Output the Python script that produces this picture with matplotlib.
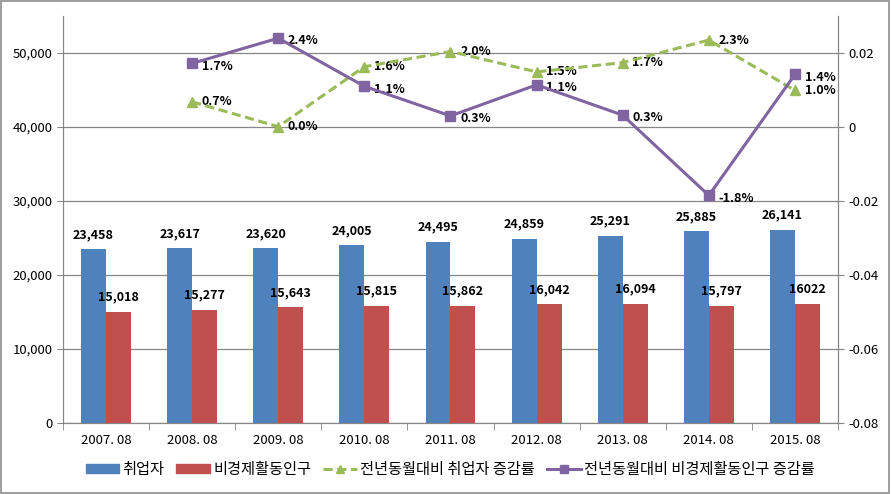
import matplotlib
matplotlib.use('Agg')
import matplotlib.pyplot as plt
import numpy as np
from matplotlib.patches import Rectangle

plt.rcParams['font.family'] = ['Noto Sans CJK KR', 'DejaVu Sans']

periods = ["2007. 08", "2008. 08", "2009. 08", "2010. 08", "2011. 08",
           "2012. 08", "2013. 08", "2014. 08", "2015. 08"]
employed = [23458, 23617, 23620, 24005, 24495, 24859, 25291, 25885, 26141]
inactive = [15018, 15277, 15643, 15815, 15862, 16042, 16094, 15797, 16022]
inactive_labels = ["15,018", "15,277", "15,643", "15,815", "15,862",
                   "16,042", "16,094", "15,797", "16022"]
# year-on-year change rates (from 2008.08)
emp_rate = [0.0068, 0.0001, 0.0163, 0.0204, 0.0149, 0.0174, 0.0235, 0.0099]
inact_rate = [0.0172, 0.0240, 0.0110, 0.0030, 0.0114, 0.0032, -0.0185, 0.0142]
emp_rate_lbl = ["0.7%", "0.0%", "1.6%", "2.0%", "1.5%", "1.7%", "2.3%", "1.0%"]
inact_rate_lbl = ["1.7%", "2.4%", "1.1%", "0.3%", "1.1%", "0.3%", "-1.8%", "1.4%"]

BLUE = '#4F81BD'
RED = '#C0504D'
GREEN = '#9BBB59'
PURPLE = '#8064A2'
GRID = '#868686'

fig = plt.figure(figsize=(8.91, 4.94), dpi=100)
fig.patches.append(Rectangle((0.001, 0.002), 0.997, 0.995, transform=fig.transFigure,
                             fill=False, edgecolor='#8c8c8c', lw=1.2))
ax = fig.add_axes([0.0707, 0.1437, 0.8698, 0.8239])
ax2 = ax.twinx()

x = np.arange(len(periods))
w = 0.29
ax.bar(x - w / 2, employed, w, color=BLUE, zorder=3)
ax.bar(x + w / 2, inactive, w, color=RED, zorder=3)
for xi, v in zip(x, employed):
    ax.annotate(f"{v:,}", (xi - w / 2, v), xytext=(0, 6), textcoords='offset points',
                ha='center', va='bottom', fontsize=9, fontweight='bold')
for xi, v, t in zip(x, inactive, inactive_labels):
    ax.annotate(t, (xi + w / 2, v), xytext=(0, 6), textcoords='offset points',
                ha='center', va='bottom', fontsize=9, fontweight='bold')

ax.set_xlim(-0.5, len(periods) - 0.5)
ax.set_ylim(0, 55000)
ax.set_yticks(range(0, 50001, 10000))
ax.set_yticklabels([f"{v:,}" for v in range(0, 50001, 10000)])
ax.set_xticks(x)
ax.set_xticklabels(periods)
ax.set_xticks(np.arange(-0.5, len(periods)), minor=True)
ax.tick_params(axis='x', which='major', length=0, pad=8, labelsize=9.5)
ax.tick_params(axis='x', which='minor', length=5, color=GRID)
ax.tick_params(axis='y', length=4, color=GRID, labelsize=9.5)
ax.grid(axis='y', color=GRID, lw=0.9, zorder=0)
for s in ['top']:
    ax.spines[s].set_visible(False)
    ax2.spines[s].set_visible(False)
for s in ['left', 'bottom', 'right']:
    ax.spines[s].set_color(GRID)
    ax2.spines[s].set_color(GRID)

xl = x[1:]
ax2.plot(xl, emp_rate, color=GREEN, lw=2.2, ls=(0, (3, 1.5)), marker='^', ms=7, zorder=4)
ax2.plot(xl, inact_rate, color=PURPLE, lw=2.2, marker='s', ms=7, zorder=5)
for xi, v, t in zip(xl, emp_rate, emp_rate_lbl):
    ax2.annotate(t, (xi, v), xytext=(7, 0), textcoords='offset points',
                 ha='left', va='center', fontsize=9, fontweight='bold')
for xi, v, t in zip(xl, inact_rate, inact_rate_lbl):
    ax2.annotate(t, (xi, v), xytext=(7, -2), textcoords='offset points',
                 ha='left', va='center', fontsize=9, fontweight='bold')
ax2.set_ylim(-0.08, 0.03)
ax2.set_yticks([-0.08, -0.06, -0.04, -0.02, 0, 0.02])
ax2.set_yticklabels(["-0.08", "-0.06", "-0.04", "-0.02", "0", "0.02"])
ax2.tick_params(axis='y', length=4, color=GRID, labelsize=9.5)

handles = [
    Rectangle((0, 0), 1, 1, color=BLUE),
    Rectangle((0, 0), 1, 1, color=RED),
    plt.Line2D([], [], color=GREEN, lw=2.2, ls=(0, (3, 1.5)), marker='^', ms=6),
    plt.Line2D([], [], color=PURPLE, lw=2.2, marker='s', ms=6),
]
labels = ["취업자", "비경제활동인구", "전년동월대비 취업자 증감률", "전년동월대비 비경제활동인구 증감률"]
fig.legend(handles, labels, loc='center', bbox_to_anchor=(0.505, 0.05), ncol=4,
           frameon=False, fontsize=11, handlelength=2.2, handleheight=0.6,
           columnspacing=0.8, handletextpad=0.2)

fig.savefig("out.png", dpi=100)
